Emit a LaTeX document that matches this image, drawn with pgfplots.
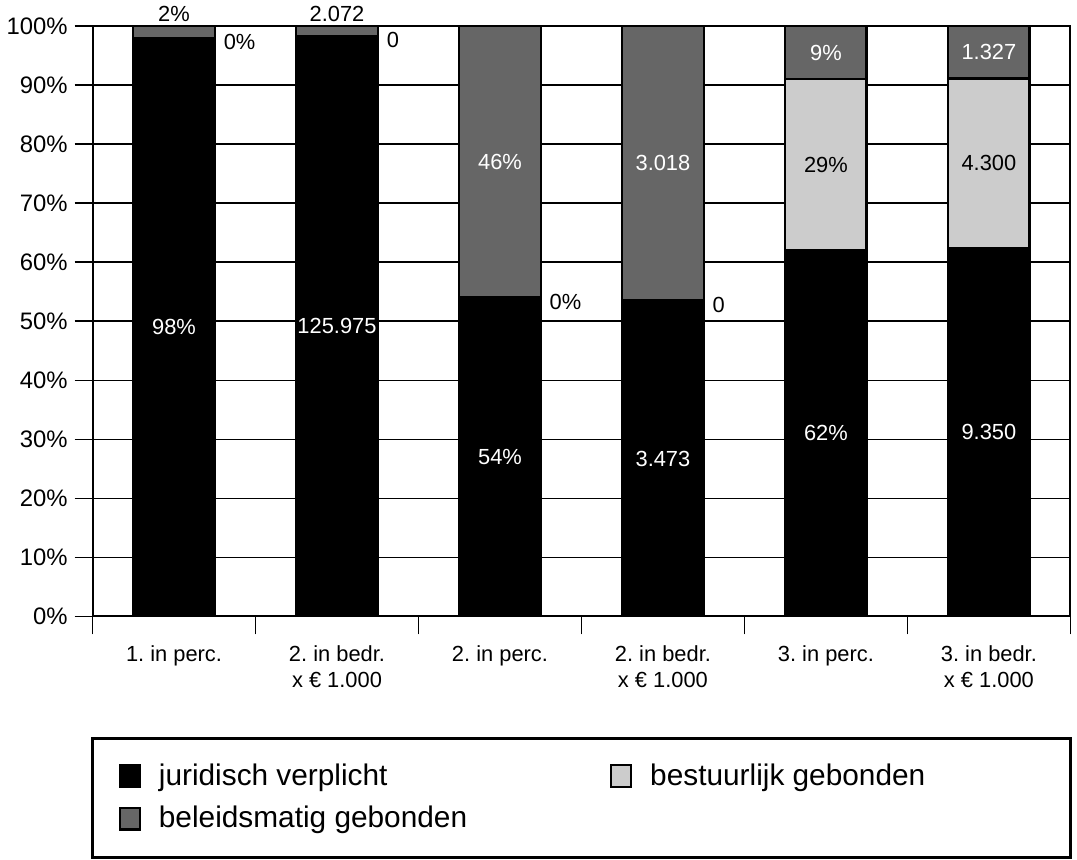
\documentclass[border=0pt]{standalone}
\usepackage{fontspec}
\setmainfont{Liberation Sans}
\usepackage{pgfplots}
\usepackage{pgfplotstable}
\pgfplotsset{compat=1.18}
\frenchspacing
\definecolor{lgray}{HTML}{CCCCCC}
\definecolor{dgray}{HTML}{666666}
\pgfplotsset{sqlegend/.style={legend image code/.code={\draw[##1, line width=1.2pt] (0pt,-5.5pt) rectangle (10pt,5.5pt);}}}

% stacked shares (percent of bar)
\pgfplotstableread{
x black light dark
0 98    0     2
1 98.38 0     1.62
2 54    0     46
3 53.5  0     46.5
4 62    29    9
5 62.43 28.71 8.86
}\bars

% labels centred in segments, white
\pgfplotstableread{
x y label
0 49    98\%
1 49.19 125.975
2 27    54\%
2 77    46\%
3 26.75 3.473
3 76.75 3.018
4 31    62\%
4 95.5  9\%
5 31.2  9.350
5 95.57 1.327
}\whitelabels

% labels centred in segments, black
\pgfplotstableread{
x y label
4 76.5  29\%
5 76.78 4.300
}\blacklabels

% zero segments, label right of bar
\pgfplotstableread{
x y label
0.25 98    0\%
1.25 98.38 0
2.25 54    0\%
3.25 53.5  0
}\sidelabels

% small segments, label above bar
\pgfplotstableread{
x y label
0 100 2\%
1 100 2.072
}\toplabels

\begin{document}
\begin{tikzpicture}
\begin{axis}[name=main,
  width=492pt, height=297pt, scale only axis,
  xmin=-0.5, xmax=5.5, ymin=0, ymax=100,
  ybar stacked, bar width=0.5,
  /pgf/number format/assume math mode=true,
  axis line style={line width=1pt},
  tick pos=left, tick align=outside,
  major tick length=9pt,
  tick style={black, line width=0.8pt},
  ytick={0,10,...,100},
  yticklabel={\pgfmathprintnumber{\tick}\%},
  yticklabel style={font=\fontsize{12}{14}\selectfont},
  ymajorgrids, major grid style={black, line width=0.8pt},
  xtick={-0.5,0.5,1.5,2.5,3.5,4.5,5.5}, xticklabels={},
  extra x ticks={0,1,2,3,4,5},
  extra x tick labels={1. in perc.,{2. in bedr.\\x~€ 1.000},2. in perc.,{2. in bedr.\\x~€ 1.000},3. in perc.,{3. in bedr.\\x~€ 1.000}},
  extra x tick style={grid=none, major tick length=0pt,
    xticklabel style={yshift=-11pt, align=center, font=\fontsize{11}{13}\selectfont}},
  legend columns=2, legend cell align=left,
  legend style={draw=none, fill=none, at={(0,0)}, anchor=north west,
    xshift=10pt, yshift=-70pt, font=\fontsize{15}{17}\selectfont,
    nodes={inner sep=2pt}, row sep=5pt,
    /tikz/every odd column/.append style={column sep=7pt}},
]
\addplot[fill=black, draw=black, line width=1.2pt, sqlegend]
  table[x=x, y=black] {\bars};
\addlegendentry{\makebox[225pt][l]{juridisch verplicht}}
\addplot[fill=lgray, draw=black, line width=1.2pt, sqlegend]
  table[x=x, y=light] {\bars};
\addlegendentry{bestuurlijk gebonden}
\addplot[fill=dgray, draw=black, line width=1.2pt, sqlegend]
  table[x=x, y=dark] {\bars};
\addlegendentry{\makebox[225pt][l]{beleidsmatig gebonden}}
\end{axis}

\begin{axis}[
  width=492pt, height=297pt, scale only axis,
  xmin=-0.5, xmax=5.5, ymin=0, ymax=100,
  hide axis, clip=false]
\addplot[draw=none, nodes near coords, point meta=explicit symbolic,
  nodes near coords align={center},
  every node near coord/.append style={text=white, font=\fontsize{11}{13}\selectfont}]
  table[x=x, y=y, meta=label] {\whitelabels};
\addplot[draw=none, nodes near coords, point meta=explicit symbolic,
  nodes near coords align={center},
  every node near coord/.append style={text=black, font=\fontsize{11}{13}\selectfont}]
  table[x=x, y=y, meta=label] {\blacklabels};
\addplot[draw=none, nodes near coords, point meta=explicit symbolic,
  nodes near coords align={west},
  every node near coord/.append style={text=black, yshift=-2pt, xshift=1pt, font=\fontsize{11}{13}\selectfont}]
  table[x=x, y=y, meta=label] {\sidelabels};
\addplot[draw=none, nodes near coords, point meta=explicit symbolic,
  nodes near coords align={south},
  every node near coord/.append style={text=black, yshift=-1.5pt, font=\fontsize{11}{13}\selectfont}]
  table[x=x, y=y, meta=label] {\toplabels};
\end{axis}

\draw[line width=1.5pt] ([yshift=-61.5pt]main.south west) rectangle ([yshift=-121.5pt]main.south east);
\end{tikzpicture}
\end{document}
